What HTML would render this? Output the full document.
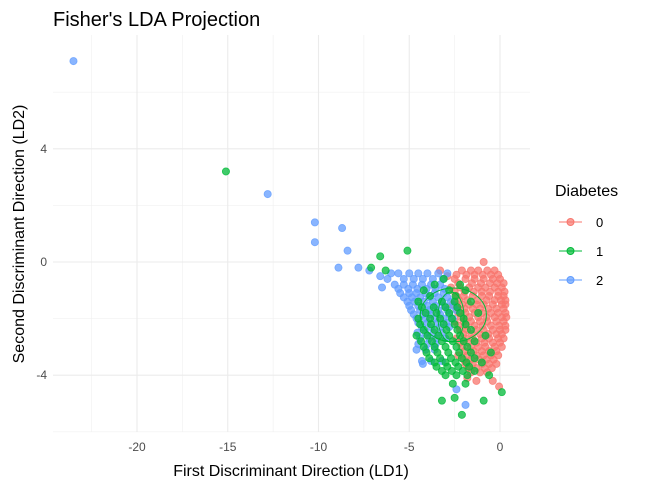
<!DOCTYPE html>
<html><head><meta charset="utf-8"><style>
body{margin:0;background:#fff;font-family:"Liberation Sans",sans-serif}
</style></head><body>
<svg id="chart" width="647" height="490" xmlns="http://www.w3.org/2000/svg" font-family="Liberation Sans, sans-serif">
<rect width="647" height="490" fill="#fff"/>
<g id="grid"></g>
<g id="points"></g>
<g id="axes"></g>
<text x="53" y="26" font-size="20" fill="#000">Fisher's LDA Projection</text>
<text x="291" y="476" font-size="16" text-anchor="middle">First Discriminant Direction (LD1)</text>
<text transform="translate(24,234) rotate(-90)" font-size="16" text-anchor="middle">Second Discriminant Direction (LD2)</text>
<g>
<text x="555" y="196" font-size="16">Diabetes</text>
<g><line x1="559" y1="222" x2="582" y2="222" stroke="#F8766D"/><circle cx="570.5" cy="222" r="3.5" fill="#F8766D" fill-opacity="0.7" stroke="#F8766D"/><text x="596" y="227" font-size="13">0</text></g>
<g><line x1="559" y1="251" x2="582" y2="251" stroke="#00BA38"/><circle cx="570.5" cy="251" r="3.5" fill="#00BA38" fill-opacity="0.7" stroke="#00BA38"/><text x="596" y="256" font-size="13">1</text></g>
<g><line x1="559" y1="280" x2="582" y2="280" stroke="#619CFF"/><circle cx="570.5" cy="280" r="3.5" fill="#619CFF" fill-opacity="0.7" stroke="#619CFF"/><text x="596" y="285" font-size="13">2</text></g>
</g>
</svg>
<script>
const xTicks=[-20,-15,-10,-5,0];
const yTicks=[-4,0,4];
const xMinor=[-22.5,-17.5,-12.5,-7.5,-2.5];
const yMinor=[-6,-2,2,6];
const redRows=[[-0.3,[-2.1,-1.6,-1.2,-0.7,-0.3]],[-0.45,[-2.4,-1.85,-1.4,-0.95,-0.5,-0.1]],[-0.6,[-2.5,-1.9,-1.4,-0.9,-0.4,0.0]],[-0.75,[-2.3,-1.55,-1.05,-0.55,-0.15,0.2]],[-0.9,[-2.7,-2.2,-1.7,-1.2,-0.8,-0.3,0.1]],[-1.05,[-2.5,-1.95,-1.45,-1.0,-0.55,-0.1,0.25]],[-1.2,[-2.4,-2.0,-1.5,-1.0,-0.6,-0.1,0.2]],[-1.35,[-2.25,-1.8,-1.25,-0.75,-0.3,0.05,0.3]],[-1.5,[-2.6,-2.1,-1.7,-1.3,-0.9,-0.4,0.1,0.3]],[-1.65,[-2.4,-1.95,-1.5,-1.1,-0.65,-0.2,0.2]],[-1.8,[-2.3,-1.9,-1.4,-1.0,-0.5,-0.1,0.3]],[-1.95,[-2.15,-1.7,-1.2,-0.75,-0.3,0.1,0.35]],[-2.1,[-2.5,-2.0,-1.6,-1.1,-0.7,-0.2,0.2]],[-2.25,[-2.3,-1.85,-1.4,-0.95,-0.5,-0.05,0.3]],[-2.4,[-2.2,-1.8,-1.3,-0.9,-0.4,0.0,0.3]],[-2.55,[-2.0,-1.55,-1.1,-0.65,-0.2,0.1]],[-2.7,[-2.4,-1.9,-1.5,-1.0,-0.6,-0.1,0.2]],[-2.85,[-2.2,-1.75,-1.3,-0.85,-0.4,0.0]],[-3.0,[-2.1,-1.6,-1.2,-0.8,-0.3,0.1]],[-3.15,[-1.95,-1.45,-1.0,-0.6,-0.2]],[-3.3,[-2.3,-1.8,-1.3,-0.9,-0.5,-0.1]],[-3.45,[-2.0,-1.6,-1.15,-0.75,-0.35]],[-3.6,[-1.9,-1.5,-1.0,-0.6,-0.2]],[-3.75,[-1.75,-1.3,-0.85,-0.45]],[-3.9,[-1.6,-1.1,-0.7]],[-4.2,[-1.3,-0.4]]];
const redExtra=[[-0.05,-4.4],[-1.8,-4.1],[-0.9,0.0],[-3.3,-0.3],[-2.9,-0.5]];
const blueRows=[[-0.4,[-5.6,-5.0,-4.5,-4.0,-3.4,-2.9]],[-0.6,[-5.3,-4.75,-4.25,-3.7,-3.15]],[-0.8,[-5.8,-5.3,-4.8,-4.3,-3.8,-3.3]],[-0.95,[-5.6,-5.05,-4.55,-4.05,-3.55,-3.05]],[-1.1,[-5.5,-5.0,-4.6,-4.1,-3.6,-3.1]],[-1.25,[-5.3,-4.85,-4.4,-3.9,-3.4,-2.9]],[-1.4,[-5.1,-4.7,-4.2,-3.7,-3.2,-2.7]],[-1.55,[-5.0,-4.5,-4.0,-3.55,-3.05,-2.55]],[-1.7,[-4.9,-4.4,-3.9,-3.4,-2.9,-2.4]],[-1.85,[-4.75,-4.25,-3.8,-3.3,-2.8]],[-2.0,[-4.6,-4.1,-3.6,-3.1,-2.6]],[-2.15,[-4.5,-4.0,-3.45,-2.95]],[-2.3,[-4.3,-3.8,-3.3,-2.8]],[-2.5,[-4.55,-4.1,-3.65,-3.2]],[-2.7,[-4.4,-3.9,-3.5,-3.0]],[-2.9,[-4.5,-4.0,-3.55]],[-3.1,[-4.6,-4.1,-3.6]],[-3.5,[-4.3,-3.8,-3.2]]];
const blueExtra=[[-23.5,7.1],[-12.8,2.4],[-10.2,1.4],[-10.2,0.7],[-8.7,1.2],[-8.4,0.4],[-8.9,-0.2],[-7.8,-0.2],[-7.2,-0.3],[-6.6,-0.5],[-6.2,-0.6],[-6.5,-0.9],[-4.25,-3.6],[-1.9,-5.05],[-2.4,-4.5],[-6.0,-0.4]];
const greenRows=[[-0.6,[-3.1]],[-0.8,[-3.6,-2.2]],[-1.0,[-4.2,-2.8,-1.9]],[-1.2,[-3.85,-2.45]],[-1.4,[-4.5,-3.2,-2.5,-1.6]],[-1.6,[-4.3,-3.65,-3.0,-2.35]],[-1.8,[-4.1,-3.5,-2.8,-2.2,-1.2]],[-2.0,[-4.5,-3.85,-3.3,-2.65,-2.0]],[-2.2,[-4.4,-3.8,-3.1,-2.5,-1.9]],[-2.4,[-4.2,-3.6,-2.95,-2.35,-1.6]],[-2.6,[-4.6,-4.0,-3.4,-2.8,-2.2,-0.8]],[-2.8,[-4.35,-3.75,-3.2,-2.6,-2.0,-1.4]],[-3.0,[-4.2,-3.6,-3.0,-2.4,-1.8]],[-3.2,[-4.05,-3.45,-2.85,-2.25,-1.6,-0.5]],[-3.4,[-3.9,-3.3,-2.7,-2.1,-1.4]],[-3.55,[-3.6,-3.0,-2.45,-1.85,-1.0]],[-3.7,[-3.5,-2.9,-2.3,-1.7]],[-3.85,[-3.2,-2.65,-2.05,-1.4]],[-4.0,[-3.0,-2.4,-1.8,-0.6]],[-4.3,[-2.6,-1.9]]];
const greenExtra=[[-15.1,3.2],[-7.1,-0.2],[-6.6,0.2],[-5.1,0.4],[-6.3,-0.3],[-2.5,-4.8],[-3.2,-4.9],[-0.9,-4.9],[-2.1,-5.4],[0.1,-4.6]];
const ellCx=[-2.57,-2.7];
const ellCy=[-1.87,-1.94];
const ellRx=[1.82,0.72];
const ellRy=[0.95,0.88];
const NS='http://www.w3.org/2000/svg';
const X0=53,X1=530,Y0=35,Y1=432;
function sx(v){return 500+18.15*v;}
function sy(v){return 262-28.3*v;}
function mk(t,a,p){const e=document.createElementNS(NS,t);for(const k in a)e.setAttribute(k,a[k]);p.appendChild(e);return e;}
const grid=document.getElementById('grid'),pts=document.getElementById('points'),axes=document.getElementById('axes');
xMinor.forEach(v=>{const l=mk('line',{x1:sx(v),x2:sx(v),y1:Y0,y2:Y1,stroke:'#f0f0f0','stroke-width':0.6},grid);});
yMinor.forEach(v=>{const l=mk('line',{x1:X0,x2:X1,y1:sy(v),y2:sy(v),stroke:'#f0f0f0','stroke-width':0.6},grid);});
xTicks.forEach(v=>{const l=mk('line',{x1:sx(v),x2:sx(v),y1:Y0,y2:Y1,stroke:'#ebebeb','stroke-width':1.1},grid);
const t=mk('text',{x:sx(v),y:451,'font-size':12,fill:'#4d4d4d','text-anchor':'middle'},axes);t.textContent=v;});
yTicks.forEach(v=>{const l=mk('line',{x1:X0,x2:X1,y1:sy(v),y2:sy(v),stroke:'#ebebeb','stroke-width':1.1},grid);
const t=mk('text',{x:47,y:sy(v)+4,'font-size':12,fill:'#4d4d4d','text-anchor':'end'},axes);t.textContent=v;});
function dot(x,y,c,name){const e=mk('circle',{cx:sx(x),cy:sy(y),r:3.6,fill:c,'fill-opacity':0.75,stroke:c,'stroke-opacity':0.8,'stroke-width':0.8},pts);}
function series(rows,extra,c,name){rows.forEach(r=>r[1].forEach(x=>dot(x,r[0],c,name)));extra.forEach(p=>dot(p[0],p[1],c,name));}
series(redRows,redExtra,'#F8766D','point-class-0');
series(blueRows,blueExtra,'#619CFF','point-class-2');
series(greenRows,greenExtra,'#00BA38','point-class-1');
ellCx.forEach((c,i)=>{const e=mk('ellipse',{cx:sx(c),cy:sy(ellCy[i]),rx:ellRx[i]*18.15,ry:ellRy[i]*28.3,fill:'none',stroke:'#00BA38','stroke-width':1},pts);});
</script>
</body></html>
